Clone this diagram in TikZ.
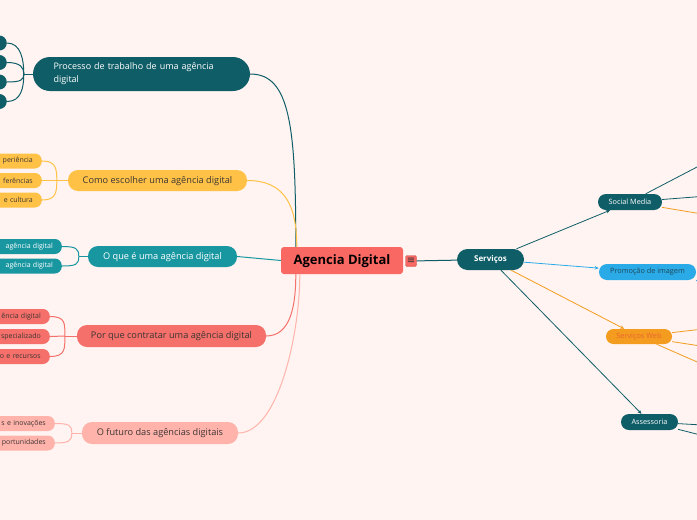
\documentclass[tikz,border=0pt]{standalone}
\usepackage{fontspec}
\setmainfont{Open Sans}
\newfontfamily\symfont{DejaVu Sans}
\usetikzlibrary{arrows.meta}

\definecolor{bgpink}{HTML}{FFF4F1}
\definecolor{darkteal}{HTML}{0F5E67}
\definecolor{gold}{HTML}{FFC247}
\definecolor{seateal}{HTML}{1997A1}
\definecolor{coral}{HTML}{F5706A}
\definecolor{rosy}{HTML}{FFB3AB}
\definecolor{centralred}{HTML}{FA6863}
\definecolor{skyblue}{HTML}{2AABE8}
\definecolor{amber}{HTML}{F39C1F}
\definecolor{webtext}{HTML}{EA6431}
\definecolor{darktext}{HTML}{3D3533}
\definecolor{navytext}{HTML}{1F4656}

\begin{document}
\begin{tikzpicture}[x=1pt,y=-1pt,
    branch/.style={rounded corners=10pt,minimum height=21pt,inner sep=0pt,text height=5.5pt,text depth=0pt,font=\fontsize{9.2}{11}\selectfont},
    leaf/.style={anchor=east,rounded corners=7pt,minimum height=15pt,text width=70pt,align=right,inner xsep=9pt,inner ysep=0pt,font=\fontsize{7}{8}\selectfont},
    dot/.style={anchor=east,rounded corners=7.5pt,minimum width=24pt,minimum height=15pt,inner sep=0pt,fill=darkteal},
    sub/.style={rounded corners=8pt,minimum height=16pt,inner sep=0pt,font=\fontsize{7.3}{8}\selectfont},
    link/.style={line width=1pt},
    arr/.style={line width=0.8pt,-{Stealth[length=4pt,width=3.5pt]}}]

    \path[use as bounding box,fill=bgpink] (0,0) rectangle (697,520);
    \clip (0,0) rectangle (697,520);

    % centre
    \node[fill=centralred,rounded corners=3pt,minimum width=122pt,minimum height=27pt,inner sep=0pt,
        text height=8.6pt,text depth=0pt,font=\fontsize{13}{15}\selectfont\bfseries] (central) at (342,260.5) {Agencia Digital};
    \node[fill=centralred,draw=centralred!80!black,line width=0.4pt,rounded corners=1.5pt,minimum size=11pt,
        inner sep=0pt,font=\symfont\fontsize{10}{10}\selectfont,text=black!80] (menu) at (411,261) {≡};
    \coordinate (ctopA) at ([xshift=15pt]central.north west);
    \coordinate (ctopB) at ([xshift=16pt]central.north west);
    \coordinate (cbotA) at ([xshift=15pt]central.south west);
    \coordinate (cbotB) at ([xshift=19pt]central.south west);

    % left: P1
    \node[fill=darkteal,text=white,rounded corners=17pt,minimum height=34pt,text width=176pt,align=left,
        inner xsep=20.5pt,inner ysep=0pt,font=\fontsize{9}{13}\selectfont] (proc) at (141.5,74)
        {Processo de trabalho de uma agência\\digital};
    \foreach \y [count=\i] in {43,62.5,82,101.5}
        \node[dot] (proc\i) at (7,\y) {};
    \draw[link,darkteal] (proc.west) -- ++(-9,0) coordinate (jproc);
    \draw[link,darkteal] (proc1.east) .. controls +(14,0) and +(0,-14) .. (jproc);
    \draw[link,darkteal] (proc2.east) .. controls +(14,0) and +(0,-6) .. (jproc);
    \draw[link,darkteal] (proc3.east) .. controls +(14,0) and +(0,6) .. (jproc);
    \draw[link,darkteal] (proc4.east) .. controls +(14,0) and +(0,14) .. (jproc);
    \draw[link,darkteal] (proc.east) .. controls +(40,0) and +(0,-120) .. (ctopA);

    % P2
    \node[branch,fill=gold,text=darktext,minimum width=179pt] (escolher) at (157.5,180.5) {Como escolher uma agência digital};
    \node[leaf,fill=gold,text=darktext] (esc1) at (42,161) {periência};
    \node[leaf,fill=gold,text=darktext] (esc2) at (42,180.5) {ferências};
    \node[leaf,fill=gold,text=darktext] (esc3) at (42,200) {e cultura};
    \draw[link,gold] (escolher.west) -- ++(-11,0) coordinate (jesc);
    \draw[link,gold] (esc1.east) .. controls +(14,0) and +(0,-12) .. (jesc);
    \draw[link,gold] (esc2.east) -- (jesc);
    \draw[link,gold] (esc3.east) .. controls +(14,0) and +(0,12) .. (jesc);
    \draw[link,gold] (escolher.east) .. controls +(35,0) and +(0,-45) .. (ctopB);

    % P3
    \node[branch,fill=seateal,text=white,minimum width=149pt] (oque) at (162.5,256.5) {O que é uma agência digital};
    \node[leaf,fill=seateal,text=white] (oq1) at (62,246.5) {agência digital};
    \node[leaf,fill=seateal,text=white] (oq2) at (62,266) {agência digital};
    \draw[link,seateal] (oque.west) -- ++(-9,0) coordinate (joq);
    \draw[link,seateal] (oq1.east) .. controls +(14,0) and +(0,-8) .. (joq);
    \draw[link,seateal] (oq2.east) .. controls +(14,0) and +(0,8) .. (joq);
    \draw[link,seateal] (oque.east) -- (central.west);

    % P4
    \node[branch,fill=coral,text=darktext,minimum width=189pt,minimum height=22pt] (porque) at (171.5,336) {Por que contratar uma agência digital};
    \node[leaf,fill=coral,text=darktext] (pq1) at (50,316.5) {ência digital};
    \node[leaf,fill=coral,text=darktext] (pq2) at (50,336.5) {specializado};
    \node[leaf,fill=coral,text=darktext] (pq3) at (50,356.5) {o e recursos};
    \draw[link,coral] (porque.west) -- ++(-12,0) coordinate (jpq);
    \draw[link,coral] (pq1.east) .. controls +(16,0) and +(0,-12) .. (jpq);
    \draw[link,coral] (pq2.east) -- (jpq);
    \draw[link,coral] (pq3.east) .. controls +(16,0) and +(0,12) .. (jpq);
    \draw[link,coral] (porque.east) .. controls +(25,0) and +(0,30) .. (cbotA);

    % P5
    \node[branch,fill=rosy,text=darktext,minimum width=156pt,minimum height=22pt] (futuro) at (160,433) {O futuro das agências digitais};
    \node[leaf,fill=rosy,text=darktext] (fu1) at (55,423.5) {s e inovações};
    \node[leaf,fill=rosy,text=darktext] (fu2) at (55,443) {portunidades};
    \draw[link,rosy] (futuro.west) -- ++(-10,0) coordinate (jfu);
    \draw[link,rosy] (fu1.east) .. controls +(14,0) and +(0,-8) .. (jfu);
    \draw[link,rosy] (fu2.east) .. controls +(14,0) and +(0,8) .. (jfu);
    \draw[link,rosy] (futuro.east) .. controls +(40,0) and +(0,60) .. (cbotB);

    % right side
    \node[fill=darkteal,text=white,rounded corners=10.5pt,minimum width=67pt,minimum height=21pt,inner sep=0pt,
        font=\fontsize{8}{9}\selectfont\bfseries] (servicos) at (490.5,259.5) {Serviços};
    \draw[link,darkteal] (menu) -- (servicos);

    \node[sub,fill=darkteal,text=white,minimum width=64pt] (social) at (630,202) {Social Media};
    \node[sub,fill=skyblue,text=navytext,minimum width=97pt] (promo) at (647.5,272) {Promoção de imagem};
    \node[sub,fill=amber,text=webtext,minimum width=66pt,minimum height=15pt,rounded corners=7.5pt] (web) at (639,336.5) {Serviços Web};
    \node[sub,fill=darkteal,text=white,minimum width=57pt] (assess) at (649.5,422) {Assessoria};

    \draw[arr,darkteal] (servicos) -- (social);
    \draw[arr,skyblue] (servicos) -- (promo);
    \draw[arr,amber] (servicos) -- (web);
    \draw[arr,darkteal] (servicos) -- (assess);

    % off-page children
    \coordinate (sm1) at (720,155);
    \coordinate (sm2) at (720,195);
    \coordinate (sm3) at (720,217);
    \coordinate (pm1) at (712,292);
    \coordinate (sw1) at (720,327);
    \coordinate (sw2) at (720,349);
    \coordinate (sw3) at (720,372);
    \coordinate (as1) at (720,426);
    \coordinate (as2) at (720,440);
    \draw[line width=0.8pt,darkteal] (social) -- (sm1) (social) -- (sm2);
    \draw[line width=0.8pt,amber] (social) -- (sm3);
    \draw[line width=0.8pt,skyblue] (promo.south east) -- (pm1);
    \draw[line width=0.8pt,amber] (web) -- (sw1) (web) -- (sw2) (web) -- (sw3);
    \draw[line width=0.8pt,darkteal] (assess) -- (as1) (assess) -- (as2);

\end{tikzpicture}
\end{document}
